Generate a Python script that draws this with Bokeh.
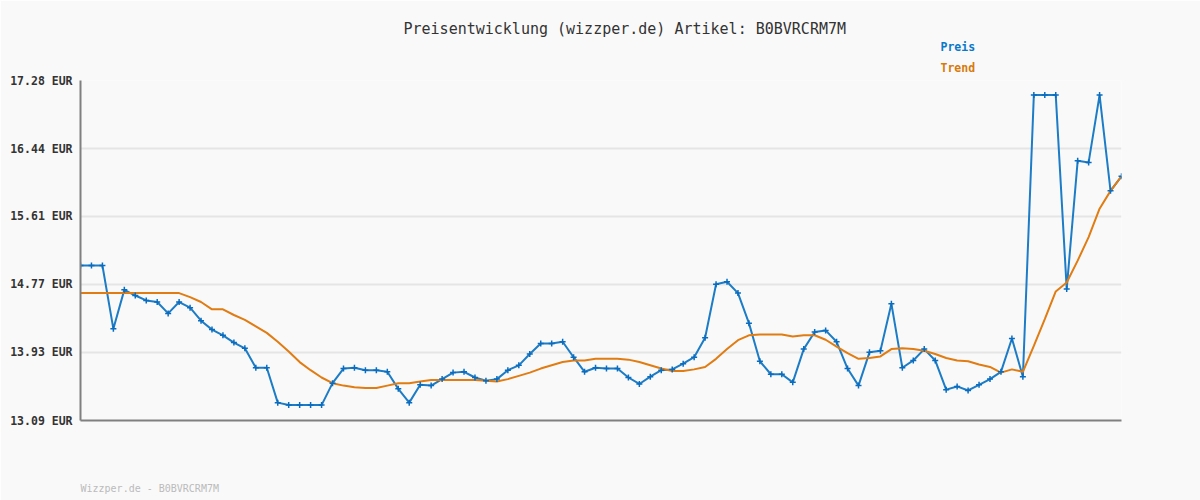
from bokeh.plotting import figure
from bokeh.models import FixedTicker, PrintfTickFormatter, Range1d, Title
from bokeh.embed import file_html
from bokeh.resources import INLINE

title_text = "Preisentwicklung (wizzper.de) Artikel: B0BVRCRM7M"
footer_text = "Wizzper.de - B0BVRCRM7M"
series_names = ["Preis", "Trend"]
y_ticks = [13.09, 13.93, 14.77, 15.61, 16.44, 17.28]

preis = [15.00, 15.00, 15.00, 14.22, 14.70, 14.63, 14.57, 14.55, 14.41, 14.55,
         14.48, 14.32, 14.21, 14.14, 14.05, 13.98, 13.74, 13.74, 13.31, 13.28,
         13.28, 13.28, 13.28, 13.55, 13.73, 13.74, 13.71, 13.71, 13.69, 13.48,
         13.31, 13.53, 13.52, 13.60, 13.68, 13.69, 13.62, 13.58, 13.60, 13.71,
         13.77, 13.91, 14.04, 14.04, 14.06, 13.87, 13.69, 13.74, 13.73, 13.73,
         13.62, 13.54, 13.63, 13.71, 13.72, 13.79, 13.87, 14.11, 14.77, 14.80,
         14.66, 14.29, 13.82, 13.66, 13.66, 13.56, 13.97, 14.18, 14.20, 14.06,
         13.73, 13.52, 13.93, 13.95, 14.53, 13.74, 13.83, 13.97, 13.83, 13.47,
         13.51, 13.46, 13.53, 13.60, 13.69, 14.10, 13.63, 17.10, 17.10, 17.10,
         14.71, 16.29, 16.27, 17.10, 15.92, 16.10]

trend = [14.66, 14.66, 14.66, 14.66, 14.66, 14.66, 14.66, 14.66, 14.66, 14.66,
         14.61, 14.55, 14.46, 14.46, 14.39, 14.33, 14.25, 14.17, 14.06, 13.94,
         13.81, 13.71, 13.62, 13.55, 13.52, 13.50, 13.49, 13.49, 13.52, 13.55,
         13.55, 13.57, 13.59, 13.59, 13.59, 13.59, 13.59, 13.58, 13.57, 13.60,
         13.64, 13.68, 13.73, 13.77, 13.81, 13.83, 13.83, 13.85, 13.85, 13.85,
         13.84, 13.81, 13.77, 13.73, 13.70, 13.70, 13.72, 13.75, 13.85, 13.97,
         14.08, 14.14, 14.15, 14.15, 14.15, 14.125, 14.14, 14.14, 14.085, 14.00,
         13.92, 13.85, 13.86, 13.88, 13.97, 13.98, 13.97, 13.95, 13.91, 13.86,
         13.83, 13.82, 13.78, 13.75, 13.68, 13.72, 13.69, 14.01, 14.34, 14.68,
         14.79, 15.06, 15.35, 15.70, 15.92, 16.10]

x = list(range(len(preis)))

BLUE = "#1c7cc6"
BLUE_DARK = "#0a6cbf"
ORANGE = "#e07c12"
BG = "#f9f9f9"
MONO = "DejaVu Sans Mono"
FRAME_W = 1041  # pixel width of the plot frame

p = figure(width=1200, height=500, output_backend="svg", toolbar_location=None,
           min_border_left=80, min_border_right=79, min_border_top=80, min_border_bottom=80,
           background_fill_color=BG, border_fill_color=BG, outline_line_color=None)
p.x_range = Range1d(0, len(preis) - 1)
p.y_range = Range1d(y_ticks[0], y_ticks[-1])

p.line(x, preis, line_color=BLUE, line_width=2)
p.line(x, trend, line_color=ORANGE, line_width=2)
p.scatter(x, preis, marker="cross", size=6, line_color=BLUE_DARK, line_width=1.5)

p.xgrid.visible = False
p.ygrid.ticker = FixedTicker(ticks=y_ticks)
p.ygrid.grid_line_color = "#e5e5e5"
p.ygrid.grid_line_width = 2

p.yaxis.ticker = FixedTicker(ticks=y_ticks)
p.yaxis.formatter = PrintfTickFormatter(format="%.2f EUR")
p.yaxis.major_label_text_font = MONO
p.yaxis.major_label_text_font_style = "bold"
p.yaxis.major_label_text_font_size = "11.5px"
p.yaxis.major_label_text_color = "#333333"
p.yaxis.major_tick_line_color = None
p.yaxis.minor_tick_line_color = None
p.yaxis.major_label_standoff = 2
p.yaxis.axis_line_color = "#808080"
p.yaxis.axis_line_width = 2

# footer drawn as the single x-axis label; the label is centred on its tick,
# so place the tick half a text-width in from the frame's left edge
footer_half_px = len(footer_text) * 6.02 / 2
footer_tick = footer_half_px * (len(preis) - 1) / FRAME_W
xax = p.xaxis[0]
xax.ticker = FixedTicker(ticks=[footer_tick])
xax.major_label_overrides = {footer_tick: footer_text}
xax.major_tick_line_color = None
xax.minor_tick_line_color = None
xax.major_label_standoff = 56
xax.major_label_text_font = MONO
xax.major_label_text_font_size = "10px"
xax.major_label_text_color = "#bbbbbb"
xax.axis_line_color = "#808080"
xax.axis_line_width = 2

p.title.visible = False

# above panels: first added sits closest to the frame
p.add_layout(Title(text=series_names[1], align="left", offset=860, standoff=11,
                   text_font=MONO, text_font_size="11.5px", text_font_style="bold",
                   text_color="#d87a0c"), "above")
p.add_layout(Title(text=series_names[0], align="left", offset=860, standoff=0,
                   text_font=MONO, text_font_size="11.5px", text_font_style="bold",
                   text_color="#0a78c8"), "above")
p.add_layout(Title(text=title_text, align="left", offset=323, standoff=0,
                   text_font=MONO, text_font_size="15px", text_font_style="normal",
                   text_color="#333333"), "above")

open("out.html", "w").write(file_html(p, INLINE))
